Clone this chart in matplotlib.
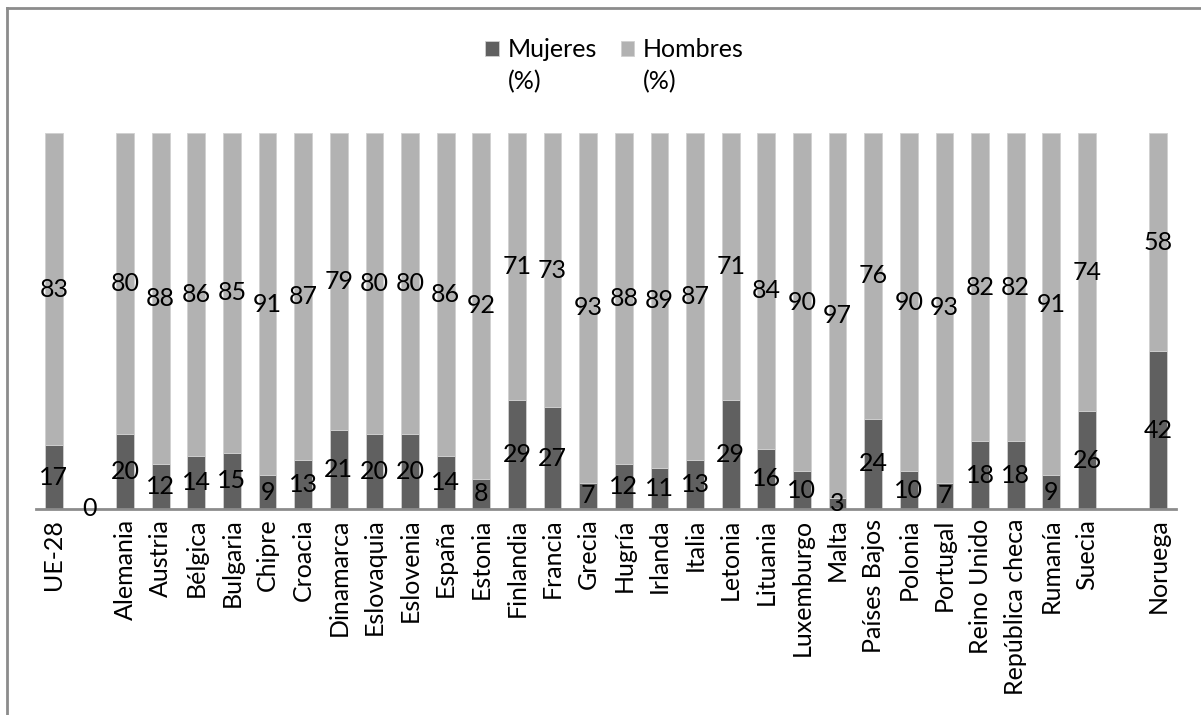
import numpy as np
import matplotlib
matplotlib.use('Agg')
import matplotlib.pyplot as plt
from matplotlib.lines import Line2D

plt.rcParams['font.family'] = ['Lato', 'DejaVu Sans']

categories = ['UE-28', '', 'Alemania', 'Austria', 'Bélgica', 'Bulgaria', 'Chipre', 'Croacia',
              'Dinamarca', 'Eslovaquia', 'Eslovenia', 'España', 'Estonia', 'Finlandia',
              'Francia', 'Grecia', 'Hugría', 'Irlanda', 'Italia', 'Letonia', 'Lituania',
              'Luxemburgo', 'Malta', 'Países Bajos', 'Polonia', 'Portugal', 'Reino Unido',
              'República checa', 'Rumanía', 'Suecia', '', 'Noruega']
mujeres = [17, 0, 20, 12, 14, 15, 9, 13, 21, 20, 20, 14, 8, 29, 27, 7, 12, 11, 13, 29, 16,
           10, 3, 24, 10, 7, 18, 18, 9, 26, np.nan, 42]
hombres = [83, np.nan, 80, 88, 86, 85, 91, 87, 79, 80, 80, 86, 92, 71, 73, 93, 88, 89, 87, 71, 84,
           90, 97, 76, 90, 93, 82, 82, 91, 74, np.nan, 58]
series_names = ['Mujeres', 'Hombres']
unit = '(%)'

c_muj = '#606060'
c_hom = '#b2b2b2'
fs = 18

fig = plt.figure(figsize=(12.01, 7.15), dpi=100)
ax = fig.add_axes([36 / 1201, 1 - 509 / 715, 1140 / 1201, 376 / 715])

x = np.arange(len(categories))
muj = np.nan_to_num(mujeres)
b1 = ax.bar(x, muj, width=0.5, color=c_muj, edgecolor='#d0d0d0', linewidth=0.6,
            label=series_names[0])
b2 = ax.bar(x, np.nan_to_num(hombres), width=0.5, bottom=muj, color=c_hom,
            edgecolor='#d0d0d0', linewidth=0.6, label=series_names[1])

ax.bar_label(b1, labels=['' if np.isnan(v) else f'{v:.0f}' for v in mujeres],
             label_type='center', fontsize=fs)
ax.bar_label(b2, labels=['' if np.isnan(v) else f'{v:.0f}' for v in hombres],
             label_type='center', fontsize=fs)

ax.set_xlim(-0.5, len(categories) - 0.5)
ax.set_ylim(0, 100)
ax.set_xticks(x)
ax.set_xticklabels(categories, rotation=90, fontsize=fs)
ax.tick_params(axis='x', length=0, pad=7)
ax.set_yticks([])
for s in ['top', 'right', 'left']:
    ax.spines[s].set_visible(False)
ax.spines['bottom'].set_color('#8c8c8c')
ax.spines['bottom'].set_linewidth(2)

leg = fig.legend(loc='upper left', bbox_to_anchor=(475 / 1201, 1 - 28 / 715), ncol=2,
                 frameon=False, fontsize=fs, handlelength=0.55, handleheight=0.55,
                 handletextpad=0.35, columnspacing=0.95, borderaxespad=0)

# second line of each legend entry, under its text
fig.canvas.draw()
inv = fig.transFigure.inverted()
for t in leg.get_texts():
    bb = t.get_window_extent().transformed(inv)
    fig.text(bb.x0, bb.y0 - 0.012, unit, fontsize=fs, ha='left', va='top')

# chart frame (only the left and top sides are within the picture)
fig.add_artist(Line2D([7 / 1201, 7 / 1201], [0, 1 - 8 / 715], color='#8c8c8c', lw=2))
fig.add_artist(Line2D([7 / 1201, 1], [1 - 8 / 715, 1 - 8 / 715], color='#8c8c8c', lw=2))

fig.savefig('out.png', dpi=100)
